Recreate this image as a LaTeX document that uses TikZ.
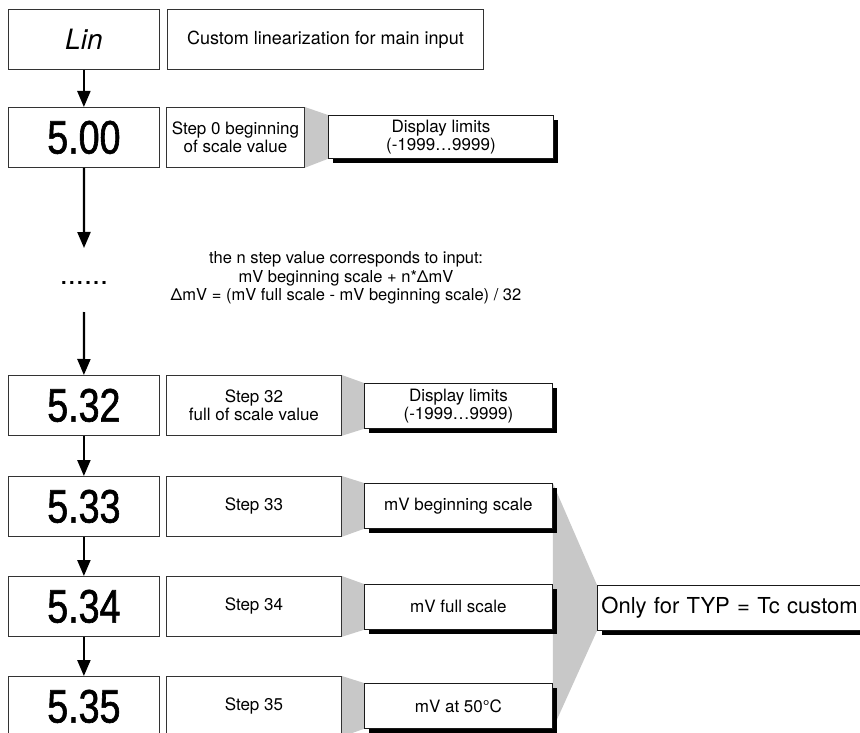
\documentclass[tikz,border=0pt]{standalone}
\usepackage{fontspec}
\setmainfont{TeX Gyre Heros}
\newfontfamily\segfont[FakeStretch=0.8, FakeBold=1.3]{Liberation Sans}
\usetikzlibrary{arrows.meta,shadows,backgrounds}
\definecolor{linkgray}{RGB}{200,200,200}
\tikzset{
  box/.style={draw=black!80, line width=0.8pt, fill=white, inner sep=0pt, anchor=north west, align=center},
  segbox/.style={box, minimum width=151pt, minimum height=60pt, font=\segfont\fontsize{47}{47}\selectfont},
  stepbox/.style={box, minimum height=60pt, font=\fontsize{17}{18}\selectfont},
  dispbox/.style={box, draw=black!90, minimum height=45pt, font=\fontsize{17}{18}\selectfont,
    general shadow={fill=black, shadow xshift=5pt, shadow yshift=-5pt}},
  linkfill/.style={fill=linkgray, draw=none},
  arr/.style={-{Triangle[width=13pt,length=16pt]}, line width=2.2pt},
}
\begin{document}
\begin{tikzpicture}[x=1pt, y=-1pt]
\useasboundingbox (0,0) rectangle (860,733);
\clip (0,0) rectangle (860,733);
% top
\node[box, minimum width=151pt, minimum height=60pt, font=\itshape\fontsize{28}{28}\selectfont] (lin) at (8,9) {Lin};
\node[box, minimum width=316pt, minimum height=60pt, font=\fontsize{18}{20}\selectfont] (cust) at (167,9) {Custom linearization for main input};
% row 0
\node[segbox] (d0) at (8,107) {5.00};
\node[stepbox, minimum width=138pt] (s0) at (166,107) {Step 0 beginning\\of scale value};
\node[dispbox, minimum width=225pt, minimum height=43pt] (p0) at (328,115) {Display limits\\(-1999…9999)};
% middle
\coordinate (a1) at (84,248);
\node[font=\fontsize{29}{29}\selectfont] (dots) at (84,283) {......};
\coordinate (a2) at (84,312);
\node[font=\fontsize{16.5}{18.5}\selectfont, align=center] (note) at (346,278) {the n step value corresponds to input:\\mV beginning scale + n*ΔmV\\ΔmV = (mV full scale - mV beginning scale) / 32};
% row 32
\node[segbox] (d32) at (8,375) {5.32};
\node[stepbox, minimum width=175pt] (s32) at (166,375) {Step 32\\full of scale value};
\node[dispbox, minimum width=188pt] (p32) at (364,383) {Display limits\\(-1999…9999)};
% row 33
\node[segbox] (d33) at (8,476) {5.33};
\node[stepbox, minimum width=175pt] (s33) at (166,476) {Step 33};
\node[dispbox, minimum width=188pt] (p33) at (364,483) {mV beginning scale};
% row 34
\node[segbox] (d34) at (8,576) {5.34};
\node[stepbox, minimum width=175pt] (s34) at (166,576) {Step 34};
\node[dispbox, minimum width=188pt] (p34) at (364,584) {mV full scale};
% row 35
\node[segbox] (d35) at (8,676) {5.35};
\node[stepbox, minimum width=175pt] (s35) at (166,676) {Step 35};
\node[dispbox, minimum width=188pt] (p35) at (364,683) {mV at 50°C};
% only
\node[box, draw=black!90, minimum height=45pt, text width=275pt, inner xsep=4pt, align=left,
  font=\fontsize{22}{24}\selectfont,
  general shadow={fill=black, shadow xshift=5pt, shadow yshift=-5pt}] (only) at (597,585) {Only for TYP = Tc custom};
% links
\begin{scope}[on background layer]
\fill[linkfill] (s0.north east) -- (p0.north west) -- (p0.south west) -- (s0.south east) -- cycle;
\fill[linkfill] (s32.north east) -- (p32.north west) -- (p32.south west) -- (s32.south east) -- cycle;
\fill[linkfill] (s33.north east) -- (p33.north west) -- (p33.south west) -- (s33.south east) -- cycle;
\fill[linkfill] (s34.north east) -- (p34.north west) -- (p34.south west) -- (s34.south east) -- cycle;
\fill[linkfill] (s35.north east) -- (p35.north west) -- (p35.south west) -- (s35.south east) -- cycle;
\fill[linkfill] (p33.north east) -- (only.north west) -- (only.south west) -- (p35.south east) -- cycle;
\end{scope}
% arrows
\draw[arr] (lin.south) -- (d0.north);
\draw[arr] (d0.south) -- (a1);
\draw[arr] (a2) -- (d32.north);
\draw[arr] (d32.south) -- (d33.north);
\draw[arr] (d33.south) -- (d34.north);
\draw[arr] (d34.south) -- (d35.north);
\end{tikzpicture}
\end{document}
